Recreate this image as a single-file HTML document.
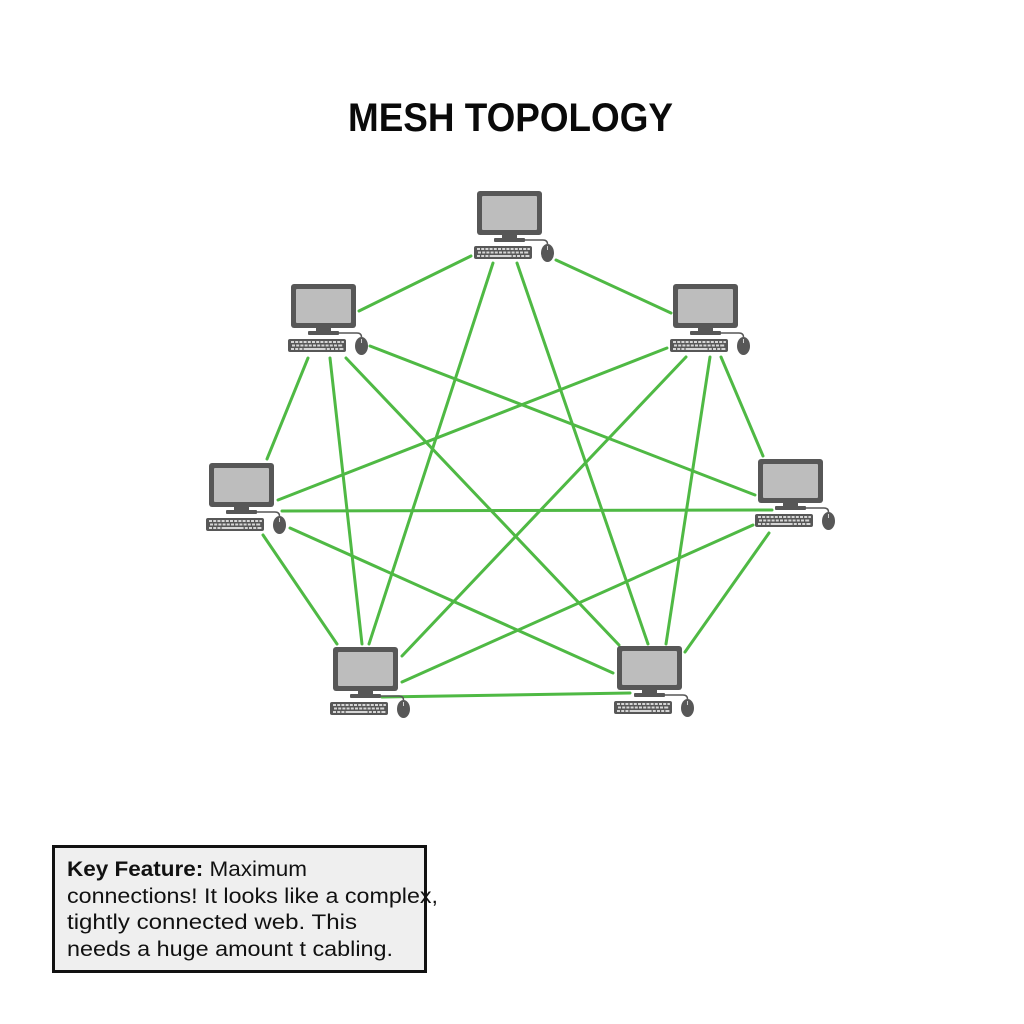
<!DOCTYPE html>
<html>
<head>
<meta charset="utf-8">
<style>
  html,body{margin:0;padding:0;background:#ffffff;}
  svg{display:block;}
</style>
</head>
<body>
<svg width="1024" height="1024" viewBox="0 0 1024 1024" xmlns="http://www.w3.org/2000/svg">
  <defs>
    <g id="pc">
      <!-- monitor -->
      <rect x="0" y="0" width="65" height="44" rx="3" fill="#575757"/>
      <rect x="5" y="5" width="55" height="34" rx="1" fill="#bdbdbd"/>
      <rect x="25" y="43" width="15" height="5" fill="#575757"/>
      <rect x="17" y="47" width="31" height="4" rx="1" fill="#575757"/>
      <!-- cable -->
      <path d="M47 49 L66 49 Q70.5 49 70.5 53" fill="none" stroke="#575757" stroke-width="1.5"/>
      <!-- keyboard -->
      <rect x="-3" y="55" width="58" height="13" rx="2" fill="#575757"/>
      <g fill="#d6d6d6">
        <rect x="0" y="57" width="3" height="2"/><rect x="4.2" y="57" width="3" height="2"/><rect x="8.4" y="57" width="3" height="2"/><rect x="12.6" y="57" width="3" height="2"/><rect x="16.8" y="57" width="3" height="2"/><rect x="21" y="57" width="3" height="2"/><rect x="25.2" y="57" width="3" height="2"/><rect x="29.4" y="57" width="3" height="2"/><rect x="33.6" y="57" width="3" height="2"/><rect x="37.8" y="57" width="3" height="2"/><rect x="42" y="57" width="3" height="2"/><rect x="46.2" y="57" width="3" height="2"/><rect x="50.4" y="57" width="2.5" height="2"/>
        <rect x="1" y="60.5" width="3" height="2"/><rect x="5.2" y="60.5" width="3" height="2"/><rect x="9.4" y="60.5" width="3" height="2"/><rect x="13.6" y="60.5" width="3" height="2"/><rect x="17.8" y="60.5" width="3" height="2"/><rect x="22" y="60.5" width="3" height="2"/><rect x="26.2" y="60.5" width="3" height="2"/><rect x="30.4" y="60.5" width="3" height="2"/><rect x="34.6" y="60.5" width="3" height="2"/><rect x="38.8" y="60.5" width="3" height="2"/><rect x="43" y="60.5" width="3" height="2"/><rect x="47.2" y="60.5" width="4" height="2"/>
        <rect x="0" y="64" width="3" height="2"/><rect x="4.2" y="64" width="3" height="2"/><rect x="8.4" y="64" width="3" height="2"/><rect x="12.6" y="64" width="22" height="2"/><rect x="35.8" y="64" width="3" height="2"/><rect x="40" y="64" width="3" height="2"/><rect x="44.2" y="64" width="3" height="2"/><rect x="48.4" y="64" width="4" height="2"/>
      </g>
      <!-- mouse -->
      <ellipse cx="70.5" cy="62" rx="6.5" ry="9" fill="#575757"/>
      <line x1="70.5" y1="55" x2="70.5" y2="59" stroke="#d0d0d0" stroke-width="1"/>
    </g>
  </defs>

  <!-- Title -->
  <text x="348" y="131" font-family="Liberation Sans, Arial, sans-serif" font-weight="bold" font-size="40" textLength="325" lengthAdjust="spacingAndGlyphs" fill="#0a0a0a">MESH TOPOLOGY</text>

  <!-- Connections -->
  <g stroke="#4fb944" stroke-width="3" stroke-linecap="round" fill="none">
    <line x1="471" y1="256" x2="359" y2="311"/>
    <line x1="556" y1="260" x2="671" y2="313"/>
    <line x1="493" y1="263" x2="369" y2="644"/>
    <line x1="517" y1="263" x2="648" y2="644"/>
    <line x1="370" y1="346" x2="755" y2="495"/>
    <line x1="308" y1="358" x2="267" y2="459"/>
    <line x1="330" y1="358" x2="362" y2="644"/>
    <line x1="346" y1="358" x2="619" y2="645"/>
    <line x1="667" y1="348" x2="278" y2="500"/>
    <line x1="686" y1="357" x2="402" y2="656"/>
    <line x1="710" y1="357" x2="666" y2="644"/>
    <line x1="721" y1="357" x2="763" y2="456"/>
    <line x1="282" y1="511" x2="772" y2="510"/>
    <line x1="263" y1="535" x2="337" y2="644"/>
    <line x1="290" y1="528" x2="613" y2="673"/>
    <line x1="753" y1="525" x2="402" y2="682"/>
    <line x1="769" y1="533" x2="685" y2="652"/>
    <line x1="382" y1="697" x2="630" y2="693"/>
  </g>

  <!-- Computers -->
  <use href="#pc" x="477" y="191"/>
  <use href="#pc" x="291" y="284"/>
  <use href="#pc" x="673" y="284"/>
  <use href="#pc" x="209" y="463"/>
  <use href="#pc" x="758" y="459"/>
  <use href="#pc" x="333" y="647"/>
  <use href="#pc" x="617" y="646"/>

  <!-- Key feature box -->
  <rect x="53.5" y="846.5" width="372" height="125" fill="#efefef" stroke="#111" stroke-width="3"/>
  <g font-family="Liberation Sans, Arial, sans-serif" font-size="21" fill="#111">
    <text x="67" y="876" textLength="240" lengthAdjust="spacingAndGlyphs"><tspan font-weight="bold">Key Feature:</tspan> Maximum</text>
    <text x="67" y="903" textLength="371" lengthAdjust="spacingAndGlyphs">connections! It looks like a complex,</text>
    <text x="67" y="929" textLength="290" lengthAdjust="spacingAndGlyphs">tightly connected web. This</text>
    <text x="67" y="956" textLength="326" lengthAdjust="spacingAndGlyphs">needs a huge amount t cabling.</text>
  </g>
</svg>
</body>
</html>
